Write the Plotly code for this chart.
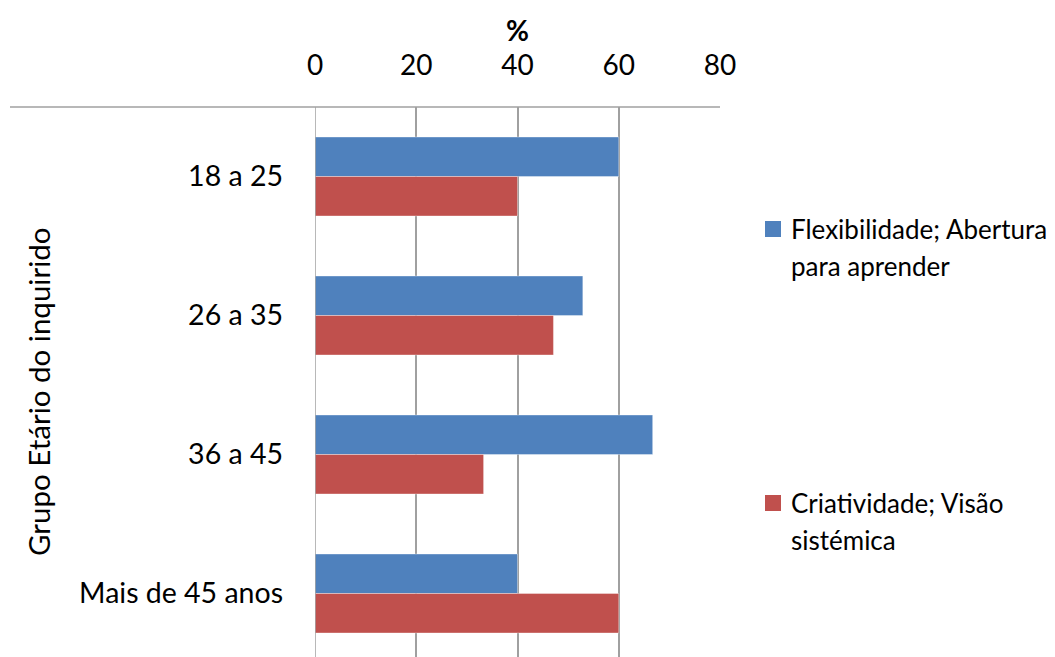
import plotly.graph_objects as go

# Age groups (top to bottom) and share of respondents per competence (%)
categories = ["18 a 25", "26 a 35", "36 a 45", "Mais de 45 anos"]
series_names = ["Flexibilidade; Abertura para aprender", "Criatividade; Visão sistémica"]
flexibilidade = [60.0, 52.9, 66.7, 40.0]
criatividade = [40.0, 47.1, 33.3, 60.0]
x_ticks = [0, 20, 40, 60, 80]

# Legend text wrapped as in the chart's legend box
legend_lines = [["Flexibilidade; Abertura", "para aprender"], ["Criatividade; Visão", "sistémica"]]

BLUE = "#4F81BD"
RED = "#C0504D"
GRID = "#A0A0A0"
FONT = "Lato"

W, H = 1055, 657
L, R, T, B = 315, 335, 107, 0
plot_w = W - L - R
plot_h = H - T - B

fig = go.Figure()
fig.add_trace(go.Bar(
    y=categories, x=flexibilidade, name=series_names[0], orientation="h",
    marker=dict(color=BLUE, line=dict(color="rgba(255,255,255,0.35)", width=1)),
))
fig.add_trace(go.Bar(
    y=categories, x=criatividade, name=series_names[1], orientation="h",
    marker=dict(color=RED, line=dict(color="rgba(255,255,255,0.35)", width=1)),
))

# the category band height is 139 px; the last band runs past the bottom edge
band_px = 139.0
y_bottom = -0.5 + plot_h / band_px

fig.update_layout(
    width=W, height=H,
    margin=dict(l=L, r=R, t=T, b=B, autoexpand=False),
    paper_bgcolor="white", plot_bgcolor="white",
    barmode="group", bargap=0.432, bargroupgap=0,
    showlegend=False,
    font=dict(family=FONT, color="#000000", size=28),
    xaxis=dict(
        side="top", range=[0, 80], tickvals=x_ticks, ticktext=[str(v) for v in x_ticks],
        showgrid=True, gridcolor=GRID, gridwidth=1.5, zeroline=False,
        showline=False, ticks="", ticklabelstandoff=25,
        tickfont=dict(family=FONT, size=28, color="#000"),
        fixedrange=True,
    ),
    yaxis=dict(
        type="category", range=[y_bottom, -0.5],
        showgrid=False, zeroline=False, showline=False, ticks="",
        ticklabelstandoff=31,
        tickfont=dict(family=FONT, size=28.5, color="#000"),
        fixedrange=True,
    ),
)

# axis line at 0 and the horizontal line along the top of the plot
fig.add_shape(type="line", xref="x", yref="paper", x0=0, x1=0, y0=0, y1=1,
              line=dict(color=GRID, width=1.5), layer="above")
fig.add_shape(type="line", xref="paper", yref="paper",
              x0=(10 - L) / plot_w, x1=1, y0=1, y1=1,
              line=dict(color=GRID, width=1.5))

def px_x(px):
    return (px - L) / plot_w

def px_y(py):
    return (H - B - py) / plot_h

# axis titles
fig.add_annotation(text="<b>%</b>", xref="paper", yref="paper",
                   x=px_x(517), y=px_y(30), showarrow=False,
                   xanchor="center", yanchor="middle",
                   font=dict(family=FONT, size=28, color="#000"))
fig.add_annotation(text="Grupo Etário do inquirido", xref="paper", yref="paper",
                   x=px_x(38), y=px_y(392), showarrow=False, textangle=-90,
                   xanchor="center", yanchor="middle",
                   font=dict(family=FONT, size=29.5, color="#000"))

# legend: colour square plus wrapped label
legend_rows = [(229, [229, 266]), (503, [503, 540])]
for color, lines, (sq_y, line_ys) in zip([BLUE, RED], legend_lines, legend_rows):
    fig.add_shape(type="rect", xref="paper", yref="paper",
                  x0=px_x(765), x1=px_x(781), y0=px_y(sq_y + 8), y1=px_y(sq_y - 8),
                  fillcolor=color, line=dict(width=0))
    for txt, ly in zip(lines, line_ys):
        fig.add_annotation(text=txt, xref="paper", yref="paper",
                           x=px_x(789), y=px_y(ly), showarrow=False,
                           xanchor="left", yanchor="middle",
                           font=dict(family=FONT, size=26, color="#000"))

fig.write_html("out.html")
